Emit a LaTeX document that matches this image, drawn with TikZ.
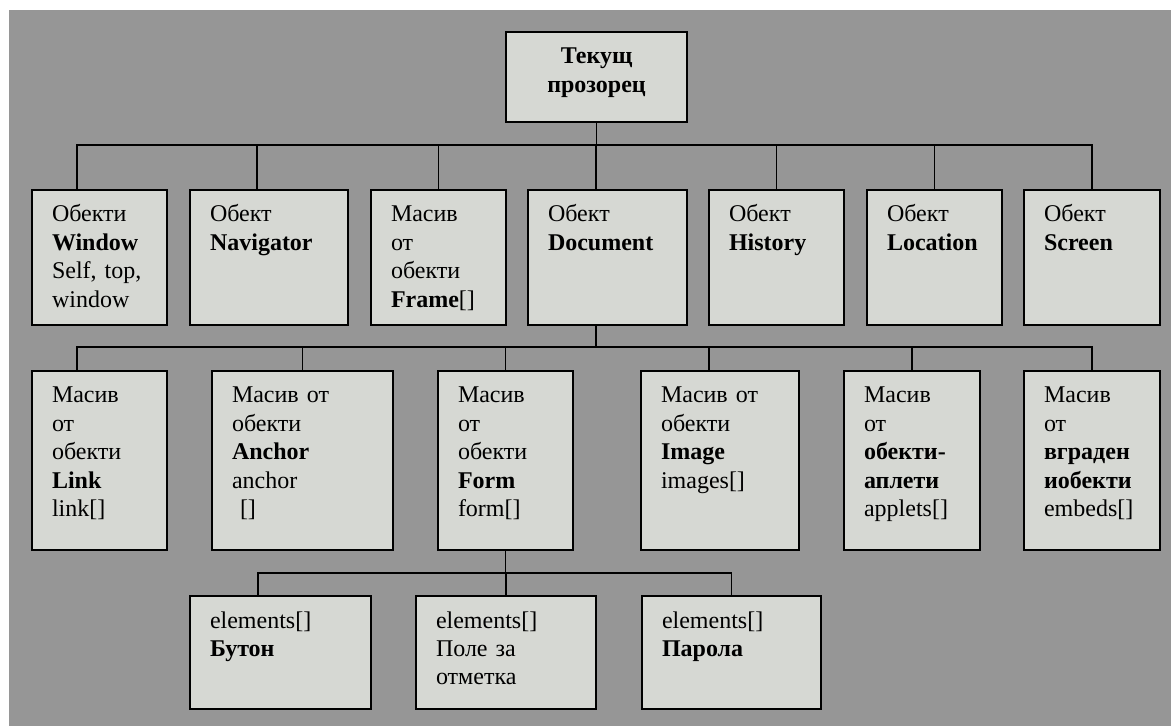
\documentclass[tikz,border=0pt]{standalone}
\usepackage{fontspec}
\setmainfont{Liberation Serif}
\usepackage{tikz}
\usetikzlibrary{positioning,calc}
\definecolor{bggray}{RGB}{150,150,150}
\definecolor{boxgray}{RGB}{214,216,211}

\begin{document}
\begin{tikzpicture}
	[   x=0.5pt,y=-0.5pt,
	    onode/.style={draw=black,fill=boxgray,line width=1pt,outer sep=0pt,anchor=north west,
	        inner xsep=10pt,inner ysep=6pt,text width=#1,align=left,text height=10pt,
	        font=\fontsize{12}{14.2}\selectfont},
	    row-a/.style={text depth=45.5pt},
	    row-b/.style={text depth=67.5pt},
	    row-c/.style={text depth=34.5pt},
	]
	\tikzset{normal line/.style={draw,line width=0.9pt}}
	\useasboundingbox (0,0) rectangle (1171,726);
	\fill[bggray] (9,10) rectangle (1171,726);

	\node[onode=70.5pt,align=center,text depth=23pt] (r) at (506,32) {\textbf{Текущ}\\\textbf{прозорец}};

	\node[onode=47.5pt,row-a] (a-1) at (32,190) {Обекти\\\textbf{Window}\\Self, top,\\window};
	\node[onode=59pt,row-a] (a-2) at (190,190) {Обект\\\textbf{Navigator}};
	\node[onode=47.5pt,row-a] (a-3) at (371,190) {Масив\\от\\обекти\\\textbf{Frame}[]};
	\node[onode=59.5pt,row-a] (a-4) at (528,190) {Обект\\\textbf{Document}};
	\node[onode=47.5pt,row-a] (a-5) at (709,190) {Обект\\\textbf{History}};
	\node[onode=47.5pt,row-a] (a-6) at (867,190) {Обект\\\textbf{Location}};
	\node[onode=48pt,row-a] (a-7) at (1024,190) {Обект\\\textbf{Screen}};

	\node[onode=47.5pt,row-b] (b-1) at (32,371) {Масив\\от\\обекти\\\textbf{Link}\\link[]};
	\node[onode=70.5pt,row-b] (b-2) at (212,371) {Масив от\\обекти\\\textbf{Anchor}\\anchor\\~[]};
	\node[onode=47.5pt,row-b] (b-3) at (438,371) {Масив\\от\\обекти\\\textbf{Form}\\form[]};
	\node[onode=59pt,row-b] (b-4) at (641,371) {Масив от\\обекти\\\textbf{Image}\\images[]};
	\node[onode=48pt,row-b] (b-5) at (844,371) {Масив\\от\\\textbf{обекти-}\\\textbf{аплети}\\applets[]};
	\node[onode=48pt,row-b] (b-6) at (1024,371) {Масив\\от\\\textbf{вграден}\\\textbf{иобекти}\\embeds[]};

	\node[onode=70.5pt,row-c] (c-1) at (190,596) {elements[]\\\textbf{Бутон}};
	\node[onode=70pt,row-c] (c-2) at (416,596) {elements[]\\Поле за\\отметка};
	\node[onode=69.5pt,row-c] (c-3) at (642,596) {elements[]\\\textbf{Парола}};

	% where the lines meet the boxes
	\coordinate (ta-1) at ([xshift=22.5pt]a-1.north west);
	\coordinate (ta-2) at ([xshift=33.5pt]a-2.north west);
	\coordinate (ta-3) at (a-3.north);
	\coordinate (ta-4) at ([xshift=34pt]a-4.north west);
	\coordinate (ta-5) at (a-5.north);
	\coordinate (ta-6) at (a-6.north);
	\coordinate (ta-7) at (a-7.north);
	\coordinate (da-4) at ([xshift=34pt]a-4.south west);

	\coordinate (tb-1) at ([xshift=22.5pt]b-1.north west);
	\coordinate (tb-2) at (b-2.north);
	\coordinate (tb-3) at (b-3.north);
	\coordinate (tb-4) at ([xshift=34pt]b-4.north west);
	\coordinate (tb-5) at (b-5.north);
	\coordinate (tb-6) at (b-6.north);

	\coordinate (tc-1) at ([xshift=34pt]c-1.north west);
	\coordinate (tc-2) at (c-2.north);
	\coordinate (tc-3) at (c-3.north);

	\foreach \x in {1,...,7}
	{
		\path[normal line] (r.south) -- ++(0,23) -| (ta-\x);
	}

	\foreach \x in {1,...,6}
	{
		\path[normal line] (da-4) -- ++(0,22) -| (tb-\x);
	}

	\foreach \x in {1,...,3}
	{
		\path[normal line] (b-3.south) -- ++(0,23) -| (tc-\x);
	}

\end{tikzpicture}
\end{document}
